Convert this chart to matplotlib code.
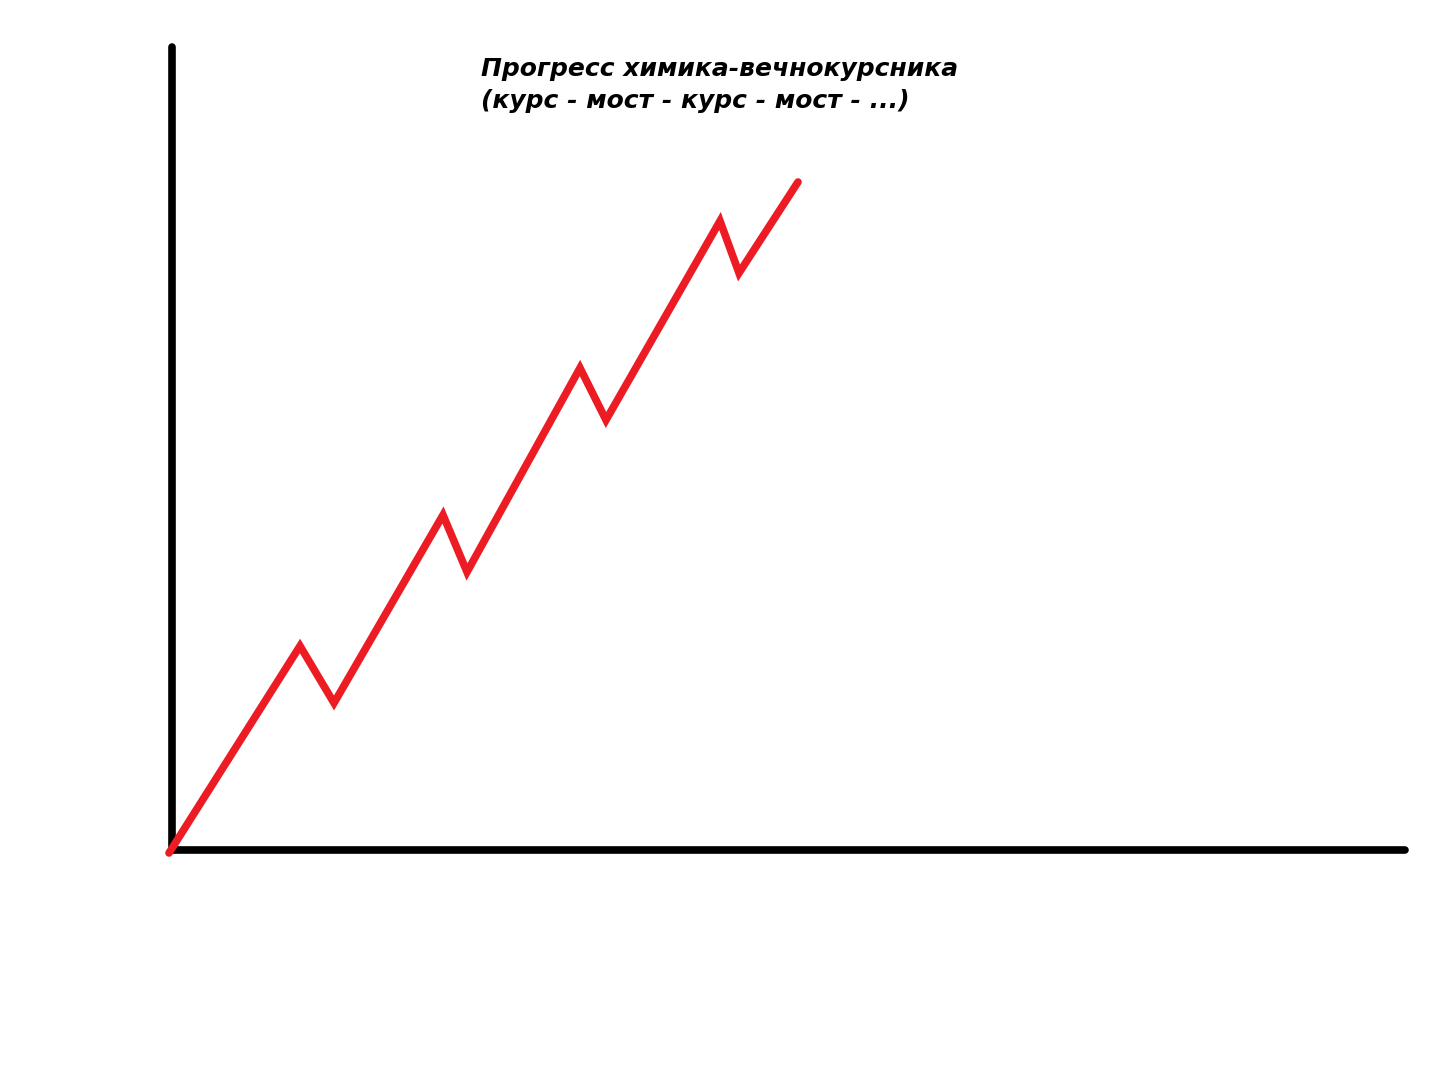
import matplotlib
matplotlib.use("Agg")
import matplotlib.pyplot as plt

# прогресс: точки ломаной (курс - мост - курс - мост ...)
time_pts = [-3, 128, 162, 271, 295, 408, 434, 548, 567, 626]
progress = [-3, 204, 147, 335, 278, 482, 430, 629, 577, 668]

title_lines = ["Прогресс химика-вечнокурсника", "(курс - мост - курс - мост - ...)"]

fig = plt.figure(figsize=(14.54, 10.8), dpi=100)
ax = fig.add_axes([172/1454, 230/1080, 1233/1454, 803/1080])
ax.set_xlim(0, 1233)
ax.set_ylim(0, 803)

ax.plot(time_pts, progress, color='#ED1C24', lw=5.5, solid_capstyle='round',
        solid_joinstyle='miter', clip_on=False, zorder=3)

for s in ['top', 'right']:
    ax.spines[s].set_visible(False)
for s in ['left', 'bottom']:
    ax.spines[s].set_linewidth(5.5)
    ax.spines[s].set_capstyle('round')
ax.set_xticks([])
ax.set_yticks([])

fig.text(481/1454, 1 - 57/1080, "\n".join(title_lines), ha='left', va='top',
         fontsize=18, fontweight='bold', style='italic', family='DejaVu Sans',
         linespacing=1.4)

fig.savefig('out.png', dpi=100)
